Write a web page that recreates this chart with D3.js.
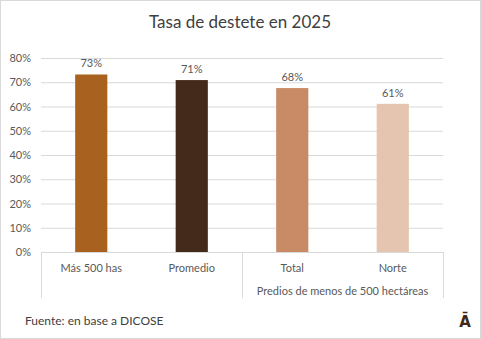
<!DOCTYPE html>
<html>
<head>
<meta charset="utf-8">
<script src="https://cdn.jsdelivr.net/npm/d3@7"></script>
<style>
  body { margin: 0; background: #fff; }
</style>
</head>
<body>
<div id="vis"></div>
<script>
/* data */
let categories = ["Más 500 has", "Promedio", "Total", "Norte"];
let values = [73.2, 70.9, 67.6, 61.1];
let barColors = ["#A8611F", "#442A1B", "#C98B65", "#E5C5AF"];
let groups = [
  { label: "", members: ["Más 500 has", "Promedio"] },
  { label: "Predios de menos de 500 hectáreas", members: ["Total", "Norte"] },
];
let yTicks = [0, 10, 20, 30, 40, 50, 60, 70, 80];
let title = "Tasa de destete en 2025";
let source = "Fuente: en base a DICOSE";

/* geometry */
let width = 481;
let height = 339;
let boundsX = [41, 443];
let boundsY = [58, 252];
let font = "Lato, 'Open Sans', sans-serif";
let textColor = "#595959";

/* scales */
let x = d3.scaleBand()
  .domain(categories)
  .range(boundsX)
  .paddingInner(0.68)
  .paddingOuter(0.34);
let y = d3.scaleLinear()
  .domain([0, 80])
  .range([boundsY[1], boundsY[0]]);

let svg = d3.select("#vis").append("svg")
  .attr("width", width)
  .attr("height", height)
  .style("display", "block");

/* outer frame */
svg.append("rect")
  .attr("x", 0.5).attr("y", 0.5)
  .attr("width", width - 1).attr("height", height - 1)
  .attr("fill", "#fff")
  .attr("stroke", "#d9d9d9");

/* title */
svg.append("text")
  .attr("x", 240).attr("y", 28)
  .attr("text-anchor", "middle")
  .attr("font-family", font)
  .attr("font-size", 17)
  .attr("fill", "#404040")
  .text(title);

/* gridlines + y labels */
let yAxis = svg.append("g")
  .attr("transform", "translate(" + boundsX[0] + ",0)")
  .call(d3.axisLeft(y)
    .tickValues(yTicks)
    .tickSize(-(boundsX[1] - boundsX[0]))
    .tickPadding(10)
    .tickFormat(d => d + "%"));
yAxis.select(".domain").remove();
yAxis.selectAll(".tick line")
  .attr("stroke", "#d9d9d9");
yAxis.selectAll(".tick text")
  .attr("font-family", font)
  .attr("font-size", 11)
  .attr("fill", textColor);

/* bars */
svg.append("g").selectAll("rect")
  .data(categories)
  .join("rect")
    .attr("x", d => x(d))
    .attr("y", (d, i) => y(values[i]))
    .attr("width", x.bandwidth())
    .attr("height", (d, i) => y(0) - y(values[i]))
    .attr("fill", (d, i) => barColors[i]);

/* value labels */
svg.append("g").selectAll("text")
  .data(categories)
  .join("text")
    .attr("x", d => x(d) + x.bandwidth() / 2)
    .attr("y", (d, i) => y(values[i]) - 7)
    .attr("text-anchor", "middle")
    .attr("font-family", font)
    .attr("font-size", 11)
    .attr("fill", textColor)
    .text((d, i) => Math.round(values[i]) + "%");

/* x axis: two levels */
let axisBottom = 298;
let ax = svg.append("g");
ax.append("line")
  .attr("x1", boundsX[0]).attr("x2", boundsX[1])
  .attr("y1", y(0) + 0.5).attr("y2", y(0) + 0.5)
  .attr("stroke", "#d9d9d9");

let step = x.step();
let edges = [boundsX[0]];
let cur = boundsX[0];
groups.forEach(g => {
  cur += g.members.length * step;
  edges.push(cur);
});
ax.selectAll(".sep")
  .data(edges)
  .join("line")
    .attr("x1", d => Math.round(d) + 0.5)
    .attr("x2", d => Math.round(d) + 0.5)
    .attr("y1", y(0))
    .attr("y2", axisBottom)
    .attr("stroke", "#d9d9d9");

ax.selectAll(".cat")
  .data(categories)
  .join("text")
    .attr("x", d => x(d) + x.bandwidth() / 2)
    .attr("y", y(0) + 20)
    .attr("text-anchor", "middle")
    .attr("font-family", font)
    .attr("font-size", 11)
    .attr("fill", textColor)
    .text(d => d);

ax.selectAll(".grp")
  .data(groups)
  .join("text")
    .attr("x", (g, i) => (edges[i] + edges[i + 1]) / 2)
    .attr("y", y(0) + 43)
    .attr("text-anchor", "middle")
    .attr("font-family", font)
    .attr("font-size", 11)
    .attr("fill", textColor)
    .text(g => g.label);

/* footer */
svg.append("text")
  .attr("x", 25).attr("y", 325)
  .attr("font-family", font)
  .attr("font-size", 12)
  .attr("fill", "#404040")
  .text(source);

svg.append("text")
  .attr("x", 465).attr("y", 327)
  .attr("text-anchor", "middle")
  .attr("font-family", "'DejaVu Sans', sans-serif")
  .attr("font-weight", "bold")
  .attr("font-size", 15)
  .attr("fill", "#3E2A1A")
  .text("Ā");
</script>
</body>
</html>
